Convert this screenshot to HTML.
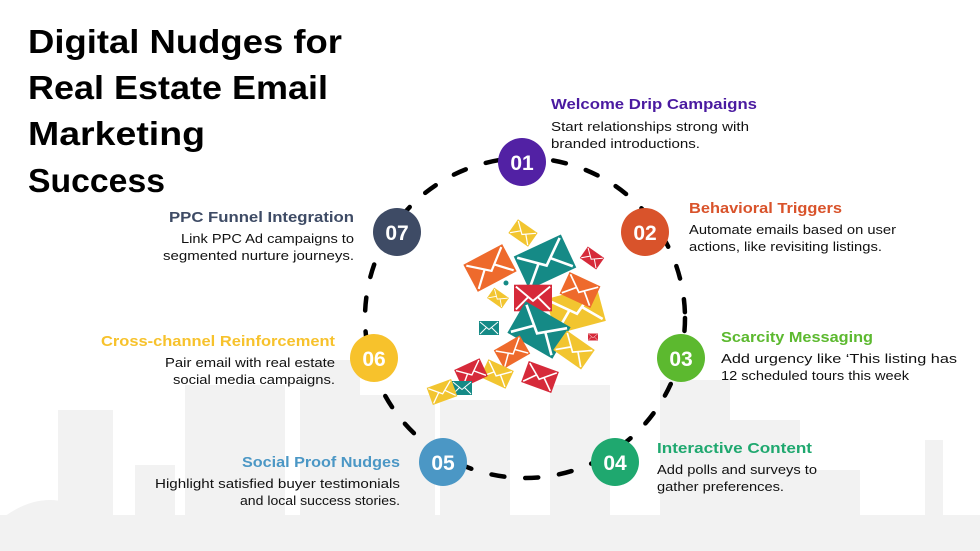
<!DOCTYPE html>
<html><head><meta charset="utf-8"><style>
html,body{margin:0;padding:0;background:#fff;}
svg{display:block;font-family:"Liberation Sans",sans-serif;}
</style></head><body>
<svg width="980" height="551" viewBox="0 0 980 551" xmlns="http://www.w3.org/2000/svg">
<defs>
<g id="env"><rect x="-20" y="-14" width="40" height="28" fill="currentColor"/><path d="M-18,-12 L0,3 L18,-12 M-18,12 L-5,-1 M18,12 L5,-1" stroke="#fff" stroke-width="2" fill="none"/></g>
</defs>
<!-- skyline -->
<g fill="#f2f2f2">
<rect x="0" y="515" width="980" height="36"/>
<rect x="58" y="410" width="55" height="141"/>
<rect x="135" y="465" width="40" height="86"/>
<rect x="185" y="385" width="100" height="166"/>
<rect x="300" y="360" width="60" height="191"/>
<rect x="340" y="395" width="95" height="156"/>
<rect x="440" y="400" width="70" height="151"/>
<rect x="550" y="385" width="60" height="166"/>
<rect x="660" y="380" width="70" height="171"/>
<rect x="730" y="420" width="70" height="131"/>
<rect x="800" y="470" width="60" height="81"/>
<rect x="925" y="440" width="18" height="111"/>
<path d="M0,520 Q50,480 100,520 Z"/>
</g>
<!-- title -->
<g font-size="33" font-weight="700" fill="#000">
<text x="28" y="53" textLength="314" lengthAdjust="spacingAndGlyphs">Digital Nudges for</text>
<text x="28" y="99" textLength="300" lengthAdjust="spacingAndGlyphs">Real Estate Email</text>
<text x="28" y="145" textLength="177" lengthAdjust="spacingAndGlyphs">Marketing</text>
<text x="28" y="192" textLength="137" lengthAdjust="spacingAndGlyphs">Success</text>
</g>
<!-- dashed ring -->
<circle cx="525" cy="318" r="160" fill="none" stroke="#000" stroke-width="4.5" stroke-dasharray="13 21" stroke-linecap="round"/>
<!-- envelopes -->
<g>
<use href="#env" transform="translate(490,268) rotate(-28) scale(1.1)" color="#ee6a2c"/>
<use href="#env" transform="translate(545,262) rotate(-25) scale(1.3)" color="#158a86"/>
<use href="#env" transform="translate(523,233) rotate(35) scale(0.6)" color="#f2c530"/>
<use href="#env" transform="translate(592,258) rotate(35) scale(0.5)" color="#d62a3a"/>
<use href="#env" transform="translate(576,310) rotate(-15) scale(1.3)" color="#f2c530"/>
<use href="#env" transform="translate(580,290) rotate(25) scale(0.85)" color="#ee6a2c"/>
<use href="#env" transform="translate(533,298) scale(0.95)" color="#d62a3a"/>
<use href="#env" transform="translate(498,298) rotate(35) scale(0.45)" color="#f2c530"/>
<use href="#env" transform="translate(539,330) rotate(30) scale(1.3)" color="#158a86"/>
<use href="#env" transform="translate(574,350) rotate(35) scale(0.85)" color="#f2c530"/>
<use href="#env" transform="translate(489,328) scale(0.5)" color="#158a86"/>
<use href="#env" transform="translate(593,337) scale(0.25)" color="#d62a3a"/>
<use href="#env" transform="translate(512,352) rotate(-30) scale(0.75)" color="#ee6a2c"/>
<use href="#env" transform="translate(540,377) rotate(20) scale(0.8)" color="#d62a3a"/>
<use href="#env" transform="translate(497,374) rotate(25) scale(0.7)" color="#f2c530"/>
<use href="#env" transform="translate(471,373) rotate(-25) scale(0.7)" color="#d62a3a"/>
<use href="#env" transform="translate(462,388) scale(0.5)" color="#158a86"/>
<use href="#env" transform="translate(442,392) rotate(-20) scale(0.65)" color="#f2c530"/>
<circle cx="506" cy="283" r="2.5" fill="#158a86"/>
</g>
<!-- nodes -->
<g font-size="21" font-weight="700" fill="#fff" text-anchor="middle">
<circle cx="522" cy="162" r="24" fill="#5221a4"/><text x="522" y="170">01</text>
<circle cx="645" cy="232" r="24" fill="#d9532b"/><text x="645" y="240">02</text>
<circle cx="681" cy="358" r="24" fill="#5cb92f"/><text x="681" y="366">03</text>
<circle cx="615" cy="462" r="24" fill="#1fa86f"/><text x="615" y="470">04</text>
<circle cx="443" cy="462" r="24" fill="#4b97c5"/><text x="443" y="470">05</text>
<circle cx="374" cy="358" r="24" fill="#f7c22c"/><text x="374" y="366">06</text>
<circle cx="397" cy="232" r="24" fill="#3e4b65"/><text x="397" y="240">07</text>
</g>
<!-- labels -->
<g font-size="15" font-weight="700">
<text x="551" y="109" fill="#4a1aa0" textLength="206" lengthAdjust="spacingAndGlyphs">Welcome Drip Campaigns</text>
<text x="689" y="213" fill="#d9532b" textLength="153" lengthAdjust="spacingAndGlyphs">Behavioral Triggers</text>
<text x="721" y="342" fill="#5cb92f" textLength="152" lengthAdjust="spacingAndGlyphs">Scarcity Messaging</text>
<text x="657" y="453" fill="#1fa86f" textLength="155" lengthAdjust="spacingAndGlyphs">Interactive Content</text>
<text x="242" y="467" fill="#4b97c5" textLength="158" lengthAdjust="spacingAndGlyphs">Social Proof Nudges</text>
<text x="101" y="346" fill="#f7c22c" textLength="234" lengthAdjust="spacingAndGlyphs">Cross-channel Reinforcement</text>
<text x="169" y="222" fill="#3e4b65" textLength="185" lengthAdjust="spacingAndGlyphs">PPC Funnel Integration</text>
</g>
<g font-size="13" fill="#111">
<text x="551" y="131" textLength="198" lengthAdjust="spacingAndGlyphs">Start relationships strong with</text>
<text x="551" y="148" textLength="149" lengthAdjust="spacingAndGlyphs">branded introductions.</text>
<text x="689" y="234" textLength="207" lengthAdjust="spacingAndGlyphs">Automate emails based on user</text>
<text x="689" y="251" textLength="193" lengthAdjust="spacingAndGlyphs">actions, like revisiting listings.</text>
<text x="721" y="363" textLength="236" lengthAdjust="spacingAndGlyphs">Add urgency like ‘This listing has</text>
<text x="721" y="380" textLength="188" lengthAdjust="spacingAndGlyphs">12 scheduled tours this week</text>
<text x="657" y="474" textLength="160" lengthAdjust="spacingAndGlyphs">Add polls and surveys to</text>
<text x="657" y="491" textLength="127" lengthAdjust="spacingAndGlyphs">gather preferences.</text>
<text x="155" y="488" textLength="245" lengthAdjust="spacingAndGlyphs">Highlight satisfied buyer testimonials</text>
<text x="240" y="505" textLength="160" lengthAdjust="spacingAndGlyphs">and local success stories.</text>
<text x="165" y="367" textLength="170" lengthAdjust="spacingAndGlyphs">Pair email with real estate</text>
<text x="173" y="384" textLength="162" lengthAdjust="spacingAndGlyphs">social media campaigns.</text>
<text x="181" y="243" textLength="173" lengthAdjust="spacingAndGlyphs">Link PPC Ad campaigns to</text>
<text x="163" y="260" textLength="191" lengthAdjust="spacingAndGlyphs">segmented nurture journeys.</text>
</g>
</svg>
</body></html>
